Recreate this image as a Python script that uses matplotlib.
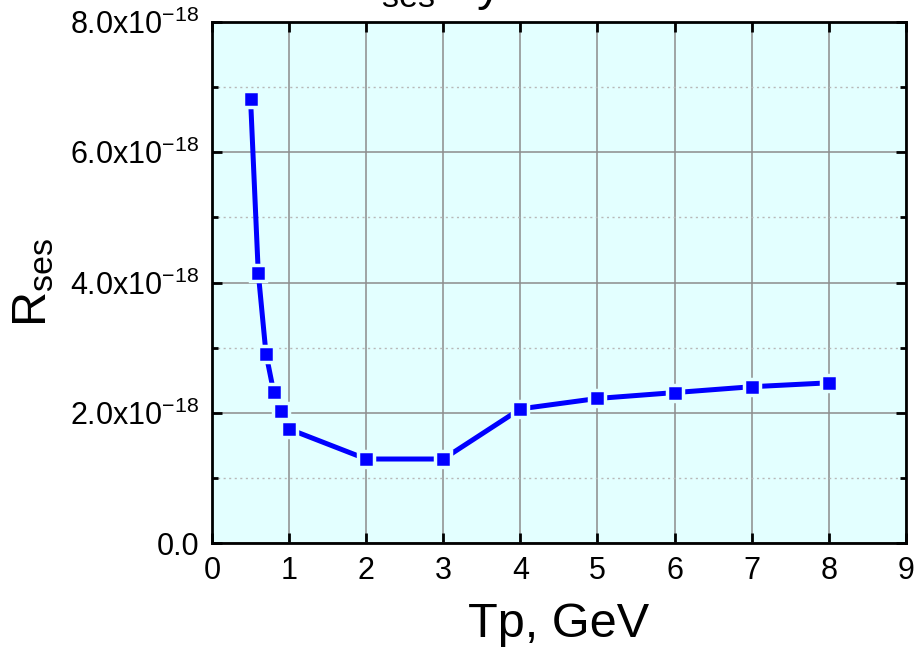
import numpy as np
import matplotlib
matplotlib.use('Agg')
import matplotlib.pyplot as plt
from matplotlib.ticker import MultipleLocator, FuncFormatter

plt.rcParams['font.family'] = ['Liberation Sans', 'DejaVu Sans']
plt.rcParams['mathtext.fontset'] = 'custom'
plt.rcParams['mathtext.rm'] = 'Liberation Sans'
plt.rcParams['mathtext.it'] = 'Liberation Sans:italic'

# data
tp = [0.5, 0.6, 0.7, 0.8, 0.9, 1.0, 2, 3, 4, 5, 6, 7, 8]
rses = [6.82e-18, 4.15e-18, 2.91e-18, 2.32e-18, 2.02e-18, 1.75e-18, 1.29e-18,
        1.29e-18, 2.06e-18, 2.22e-18, 2.31e-18, 2.40e-18, 2.46e-18]

bg = '#e3ffff'

fig = plt.figure(figsize=(9.15, 6.49), dpi=100)
ax = fig.add_axes([0.2317, 0.1633, 0.7583, 0.8027])
ax.set_facecolor(bg)

ax.plot(tp, rses, color='#0000ff', lw=3.6, marker='s', ms=11,
        mfc='#0000ff', mec=bg, mew=2.5, zorder=3)

ax.set_xlim(0, 9)
ax.set_ylim(0, 8e-18)
ax.xaxis.set_major_locator(MultipleLocator(1))
ax.yaxis.set_major_locator(MultipleLocator(2e-18))
ax.yaxis.set_minor_locator(MultipleLocator(1e-18))


def yfmt(v, pos):
    m = v / 1e-18
    if abs(m) < 1e-9:
        return '0.0'
    return '%.1fx10$^{\\mathrm{-18}}$' % m


ax.yaxis.set_major_formatter(FuncFormatter(yfmt))

ax.grid(True, which='major', color='#8c8c8c', lw=1.1)
ax.grid(True, which='minor', axis='y', color='#b8b8b8', lw=1, ls=(0, (1.5, 2.5)))
ax.set_axisbelow(True)

ax.tick_params(which='both', direction='in', top=True, right=True,
               labelsize=22, width=2)
ax.tick_params(axis='x', pad=9)
ax.tick_params(axis='y', pad=9)
ax.tick_params(which='major', length=7)
ax.tick_params(which='minor', length=4)
ax.tick_params(axis='x', which='minor', top=False, bottom=False)
for s in ax.spines.values():
    s.set_linewidth(2)

ax.set_xlabel('Tp, GeV', fontsize=35, labelpad=12)
ax.set_ylabel('R$_{\\mathrm{ses}}$', fontsize=35, labelpad=10)

# title is clipped by the top of the picture
fig.text(0.378, 1.0, 'R$_{\\mathrm{ses}}$ dynamics', fontsize=35, ha='left', va='baseline')

fig.savefig('out.png', dpi=100)
